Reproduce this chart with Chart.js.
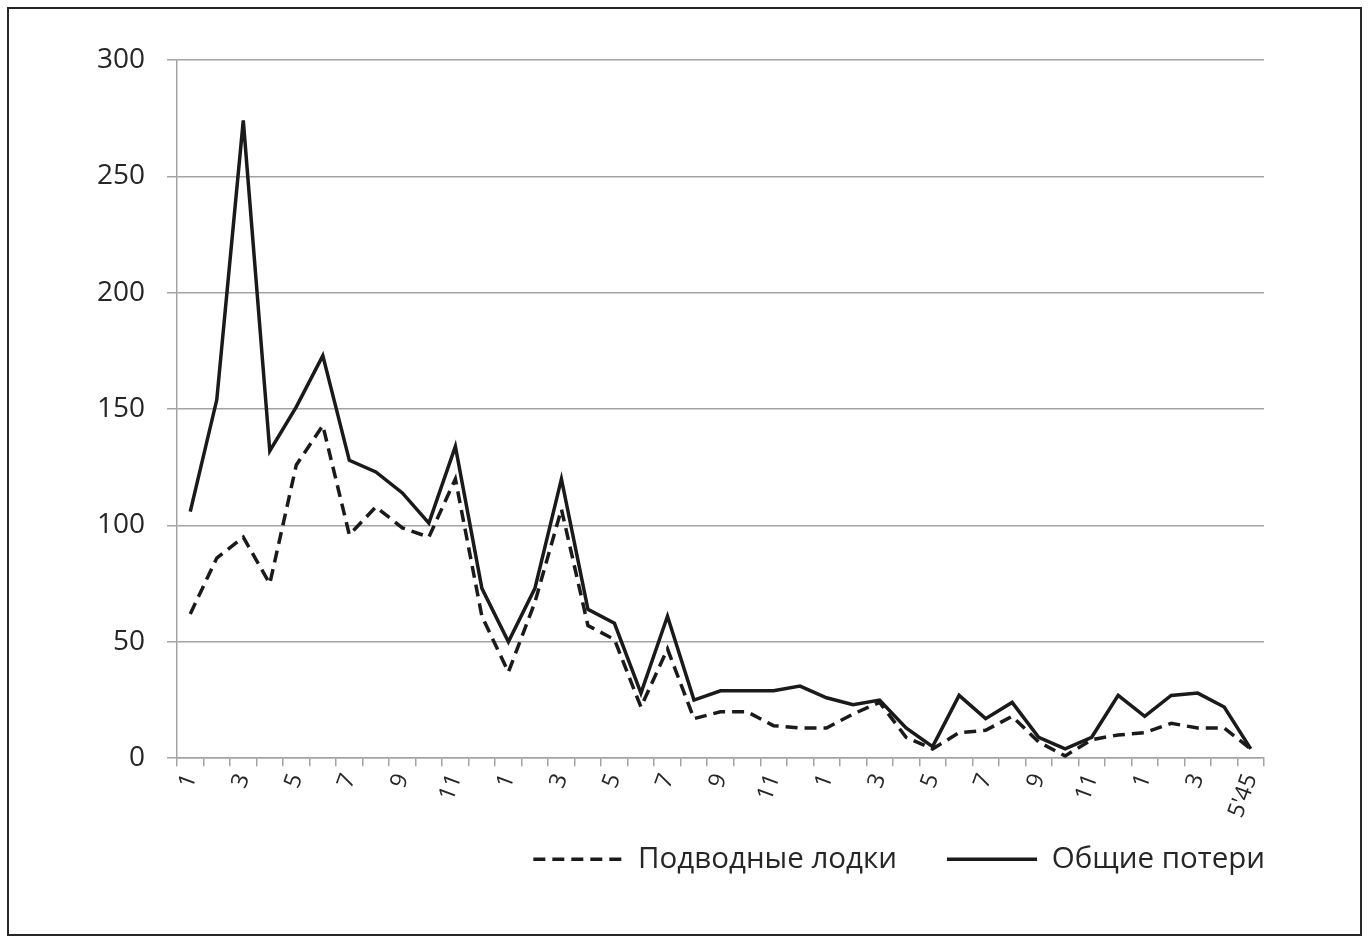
<!DOCTYPE html>
<html>
<head>
<meta charset="utf-8">
<script src="https://cdn.jsdelivr.net/npm/chart.js@4/dist/chart.umd.min.js"></script>
<style>
  html, body { margin: 0; padding: 0; background: #ffffff; }
  #frame {
    position: absolute; left: 7px; top: 7px;
    width: 1355px; height: 929px;
    box-sizing: border-box;
    border: 2px solid #262626;
    background: #ffffff;
  }
  #wrap { position: absolute; left: 0; top: 0; width: 1351px; height: 925px; }
</style>
</head>
<body>
<div id="frame"><div id="wrap"><canvas id="chart"></canvas></div></div>
<script>
// Months from January of the first year through May 1945
const months = [
  '1','2','3','4','5','6','7','8','9','10','11','12',
  '1','2','3','4','5','6','7','8','9','10','11','12',
  '1','2','3','4','5','6','7','8','9','10','11','12',
  '1','2','3','4',"5'45"
];

// Submarines (dashed line)
const submarineLosses = [
  62, 86, 95, 75, 126, 143, 96, 108, 99, 95, 120, 61,
  37, 67, 107, 57, 51, 22, 47, 17, 20, 20, 14, 13,
  13, 19, 24, 9, 4, 11, 12, 18, 7, 1, 8, 10,
  11, 15, 13, 13, 4
];

// Total losses (solid line)
const totalLosses = [
  106, 154, 274, 132, 151, 173, 128, 123, 114, 101, 134, 73,
  50, 73, 120, 64, 58, 28, 61, 25, 29, 29, 29, 31,
  26, 23, 25, 13, 5, 27, 17, 24, 9, 4, 9, 27,
  18, 27, 28, 22, 4
];

const yTicks = { min: 0, max: 300, step: 50 };

const FONT = "'Open Sans', 'DejaVu Sans', sans-serif";
const INK = '#1a1a1a';
const GRID = '#a3a3a3';
const TEXT = '#262626';

const LEGEND_GAP = 50;   // space between legend entries
const LEGEND_LIFT = 31;  // legend row sits closer to the axis labels

// Pulls the legend row up towards the rotated month labels
const legendLift = {
  id: 'legendLift',
  afterLayout(chart) {
    const lg = chart.legend;
    if (!lg) return;
    lg.top -= LEGEND_LIFT;
    lg.bottom -= LEGEND_LIFT;
  }
};

new Chart(document.getElementById('chart'), {
  type: 'line',
  data: {
    labels: months,
    datasets: [
      {
        label: 'Подводные лодки',
        data: submarineLosses,
        borderColor: INK,
        backgroundColor: INK,
        borderWidth: 3.5,
        borderDash: [12, 7],
        borderCapStyle: 'butt',
        borderJoinStyle: 'miter',
        pointRadius: 0,
        tension: 0
      },
      {
        label: 'Общие потери',
        data: totalLosses,
        borderColor: INK,
        backgroundColor: INK,
        borderWidth: 3.5,
        borderJoinStyle: 'miter',
        pointRadius: 0,
        tension: 0
      }
    ]
  },
  plugins: [legendLift],
  options: {
    responsive: true,
    maintainAspectRatio: false,
    animation: false,
    layout: { padding: { left: 0, right: 45, top: 51, bottom: 19 } },
    plugins: {
      tooltip: { enabled: false },
      legend: {
        position: 'bottom',
        align: 'end',
        labels: {
          usePointStyle: true,
          pointStyle: 'line',
          pointStyleWidth: 90,
          boxHeight: 3,
          color: TEXT,
          padding: LEGEND_GAP,
          font: { family: FONT, size: 29.5 },
          // line samples carry each dataset's own dash pattern and width
          generateLabels: function (chart) {
            return chart.data.datasets.map(function (ds, i) {
              return {
                text: ds.label,
                datasetIndex: i,
                fillStyle: ds.borderColor,
                strokeStyle: ds.borderColor,
                fontColor: TEXT,
                lineWidth: ds.borderWidth,
                lineDash: ds.borderDash || [],
                lineCap: 'butt',
                pointStyle: 'line',
                hidden: !chart.isDatasetVisible(i)
              };
            });
          }
        }
      }
    },
    scales: {
      x: {
        type: 'category',
        offset: true,
        border: { display: true, color: GRID, width: 1.5 },
        grid: {
          offset: true,
          drawOnChartArea: false,
          drawTicks: true,
          tickLength: 8,
          color: GRID,
          lineWidth: 1.5
        },
        ticks: {
          autoSkip: false,
          maxRotation: 70,
          minRotation: 70,
          padding: 4,
          color: TEXT,
          font: { family: FONT, size: 23 },
          callback: function (value, index) {
            return index % 2 === 0 ? months[index] : '';
          }
        }
      },
      y: {
        min: yTicks.min,
        max: yTicks.max,
        afterFit: function (scale) { scale.width = 168; },
        border: { display: true, color: GRID, width: 1.5 },
        grid: {
          color: GRID,
          lineWidth: 1.5,
          drawTicks: true,
          tickLength: 10
        },
        ticks: {
          stepSize: yTicks.step,
          padding: 22,
          color: TEXT,
          font: { family: FONT, size: 28 }
        }
      },
      // empty right-hand margin between the plot and the legend's right edge
      gutter: {
        type: 'linear',
        position: 'right',
        afterFit: function (scale) { scale.width = 51; },
        border: { display: false },
        grid: { display: false },
        ticks: { display: false }
      }
    }
  }
});
</script>
</body>
</html>
